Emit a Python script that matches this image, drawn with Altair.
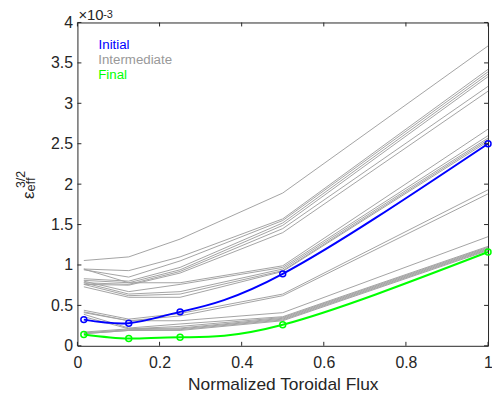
import altair as alt
import pandas as pd

# ---- data (y values in units of 1e-3) ----
flux = [0.0156, 0.125, 0.25, 0.5, 1.0]
initial = [0.324, 0.28, 0.42, 0.89, 2.50]
final = [0.14, 0.09, 0.107, 0.26, 1.16]

intermediate = [
    [1.055, 1.10, 1.32, 1.89, 3.71],
    [0.95, 0.93, 1.10, 1.57, 3.42],
    [0.94, 0.85, 1.05, 1.55, 3.39],
    [0.83, 0.80, 0.97, 1.52, 3.36],
    [0.81, 0.78, 0.94, 1.49, 3.33],
    [0.78, 0.76, 0.92, 1.45, 3.21],
    [0.76, 0.75, 0.90, 1.40, 3.15],
    [0.95, 0.78, 0.78, 0.99, 2.68],
    [0.80, 0.67, 0.76, 0.97, 2.60],
    [0.78, 0.64, 0.67, 0.95, 2.57],
    [0.76, 0.62, 0.64, 0.93, 2.55],
    [0.73, 0.60, 0.60, 0.92, 2.53],
    [0.44, 0.33, 0.40, 0.64, 1.93],
    [0.42, 0.31, 0.37, 0.62, 1.88],
    [0.41, 0.31, 0.31, 0.41, 1.35],
    [0.39, 0.22, 0.27, 0.36, 1.23],
    [0.36, 0.21, 0.24, 0.35, 1.22],
    [0.17, 0.21, 0.22, 0.34, 1.21],
    [0.16, 0.20, 0.21, 0.33, 1.20],
    [0.15, 0.19, 0.20, 0.32, 1.19],
    [0.15, 0.19, 0.19, 0.31, 1.18],
]

x_ticks = [0, 0.2, 0.4, 0.6, 0.8, 1]
y_ticks = [0, 0.5, 1, 1.5, 2, 2.5, 3, 3.5, 4]
legend_labels = ["Initial", "Intermediate", "Final"]
colors = ["#0000ff", "#a3a3a3", "#00ff00"]

# ---- tables ----
gray_rows = []
for i, run in enumerate(intermediate):
    for xv, yv in zip(flux, run):
        gray_rows.append({"run": i, "x": xv, "y": yv})
gray_df = pd.DataFrame(gray_rows)
init_df = pd.DataFrame({"x": flux, "y": initial})
final_df = pd.DataFrame({"x": flux, "y": final})
xt_df = pd.DataFrame({"x": x_ticks})
yt_df = pd.DataFrame({"y": y_ticks})
one = pd.DataFrame({"k": [0]})

W, H = 414, 326
AX = "#262626"
FONT = "Liberation Sans"

xscale = alt.Scale(domain=[0, 1], nice=False, zero=False)
yscale = alt.Scale(domain=[0, 4], nice=False, zero=False)

xaxis = alt.Axis(values=x_ticks, format="~g", ticks=False, domain=False, grid=False,
                 labelFontSize=16, labelColor=AX, labelFont=FONT, labelPadding=9,
                 labelFlush=False, labelOverlap=False,
                 title="Normalized Toroidal Flux", titleFontSize=17.5, titleFont=FONT,
                 titleFontWeight="normal", titleColor=AX, titleBaseline="alphabetic",
                 titleY=44)
yaxis = alt.Axis(values=y_ticks, format="~g", ticks=False, domain=False, grid=False,
                 labelFontSize=16, labelColor=AX, labelFont=FONT, labelPadding=5,
                 labelFlush=False, labelOverlap=False, title=None)

X = alt.X("x:Q", scale=xscale, axis=xaxis)
Y = alt.Y("y:Q", scale=yscale, axis=yaxis)

gray = alt.Chart(gray_df).mark_line(color=colors[1], strokeWidth=1).encode(
    x=X, y=Y, detail="run:N")

def series(df, color):
    line = alt.Chart(df).mark_line(interpolate="natural", color=color, strokeWidth=2).encode(x=X, y=Y)
    pts = alt.Chart(df).mark_point(shape="circle", filled=False, size=36, strokeWidth=1.5,
                                   color=color, opacity=1).encode(x=X, y=Y)
    return line + pts

blue = series(init_df, colors[0])
green = series(final_df, colors[2])

tick_b = alt.Chart(xt_df).mark_rule(color=AX, strokeWidth=1).encode(x=X, y=alt.value(H), y2=alt.value(H - 4))
tick_t = alt.Chart(xt_df).mark_rule(color=AX, strokeWidth=1).encode(x=X, y=alt.value(0), y2=alt.value(4))
tick_l = alt.Chart(yt_df).mark_rule(color=AX, strokeWidth=1).encode(y=Y, x=alt.value(0), x2=alt.value(4))
tick_r = alt.Chart(yt_df).mark_rule(color=AX, strokeWidth=1).encode(y=Y, x=alt.value(W), x2=alt.value(W - 4))

def label(text, px, py, size, color=AX, angle=0):
    return alt.Chart(one).mark_text(text=text, fontSize=size, font=FONT, color=color,
                                    align="left", baseline="alphabetic", angle=angle).encode(
        x=alt.value(px), y=alt.value(py))

leg = [label(legend_labels[0], 21.3, 26.3, 13.4, colors[0]),
       label(legend_labels[1], 21.0, 41.7, 13.4, "#999999"),
       label(legend_labels[2], 21.0, 57.3, 13.4, colors[2])]

expo = [label("\u00d710", 1, -2, 15), label("-3", 26, -5, 11)]

ylab = [label("\u03b5", -43.5, 178, 17, angle=270),
        label("eff", -42.5, 170.5, 13, angle=270),
        label("3/2", -52.5, 167, 12.5, angle=270)]

chart = alt.layer(gray, blue, green, tick_b, tick_t, tick_l, tick_r, *leg, *expo, *ylab).properties(
    width=W, height=H,
    padding={"left": 70, "top": 13, "right": 4, "bottom": 48},
    autosize=alt.AutoSizeParams(type="none"),
).configure_view(stroke=AX, strokeWidth=1)

chart.save("out.html", embed_options={"renderer": "svg", "actions": False})
